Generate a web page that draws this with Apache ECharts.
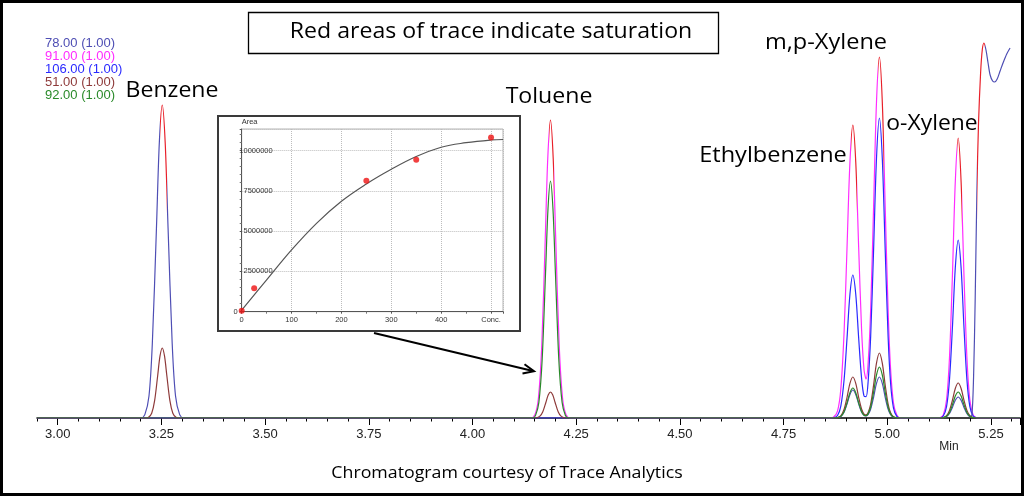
<!DOCTYPE html>
<html>
<head>
<meta charset="utf-8">
<script src="https://cdn.jsdelivr.net/npm/echarts@6/dist/echarts.min.js"></script>
<style>
  html, body { margin: 0; padding: 0; background: #fff; }
  #chart { width: 1024px; height: 496px; }
</style>
</head>
<body>
<div id="chart"></div>
<script>
// ---------- chromatogram traces: [retention time (min), response] ----------
const ion78 = [
  [2.95,0],[3.200,0],[3.210,3.4],[3.220,22],[3.228,74],[3.238,190],[3.245,276],[3.252,313],[3.259,276],[3.266,190],[3.276,74],[3.284,22],[3.294,3.4],[3.304,0],
  [4.870,0],[4.880,0.24],[4.888,1.5],[4.896,6],[4.903,14.2],[4.910,23.6],[4.917,28],[4.924,23.6],[4.931,14.2],[4.938,6.1],[4.944,2.6],[4.949,2],[4.954,3.5],[4.960,8.9],[4.967,20.7],[4.974,34.6],[4.981,41],[4.988,34.6],[4.995,20.7],[5.002,8.9],[5.008,3.3],[5.015,0.7],[5.023,0.1],[5.030,0],
  [5.130,0],[5.135,0.2],[5.143,1.4],[5.150,4.5],[5.157,10.6],[5.164,17.7],[5.171,21],[5.178,17.7],[5.185,10.6],[5.192,4.5],[5.199,1.4],
  [5.204,3],[5.208,40],[5.212,120],[5.216,225],[5.220,295],[5.225,345],[5.229,368],[5.233,375],[5.238,368],[5.243,355],[5.248,343],[5.254,337],[5.259,336],[5.265,339],[5.272,347],[5.280,356],[5.288,364],[5.296,370]
];
const ion91 = [
  [2.95,0],[4.140,0],[4.1505,3.3],[4.159,20.3],[4.167,72.7],[4.1755,180.9],[4.1815,260.2],[4.188,298],[4.1945,260.2],[4.2005,180.9],[4.209,72.7],[4.217,20.3],[4.2255,3.3],[4.236,0],
  [4.860,0],[4.870,0.7],[4.880,6.9],[4.888,29],[4.896,87],[4.903,171],[4.910,256],[4.917,293],[4.924,256],[4.931,171],[4.938,89],[4.944,48],[4.949,39],[4.954,56],[4.960,109],[4.967,211],[4.974,316],[4.981,361],[4.988,316],[4.995,211],[5.002,108],[5.008,49],[5.015,15],[5.023,2.9],[5.032,0],
  [5.120,0],[5.127,0.3],[5.135,3.1],[5.143,18.5],[5.150,60.5],[5.157,141.7],[5.164,236.3],[5.171,280],[5.178,236.3],[5.185,141.7],[5.192,60.5],[5.199,18.5],[5.207,3.1],[5.215,0.3],[5.222,0],[5.32,0]
];
const ion106 = [
  [2.95,0],[4.860,0],[4.870,0.2],[4.880,2.5],[4.888,11.9],[4.896,38.8],[4.903,80],[4.910,123.7],[4.917,143],[4.924,123.7],[4.931,80.2],[4.938,40],[4.944,21.8],[4.949,21.3],[4.954,37.3],[4.960,82],[4.967,168],[4.974,259.5],[4.981,300],[4.988,259.5],[4.995,168],[5.002,81.3],[5.008,34.8],[5.015,9.8],[5.023,1.6],[5.032,0],
  [5.125,0],[5.135,2],[5.143,11.7],[5.150,38.4],[5.157,90],[5.164,150.2],[5.171,178],[5.178,150.2],[5.185,90],[5.192,38.4],[5.199,11.7],[5.207,2],[5.215,0.2],[5.222,0],[5.32,0]
];
const ion51 = [
  [2.95,0],[3.212,0],[3.219,0.8],[3.2265,4.8],[3.2335,17.1],[3.241,42.5],[3.2465,61.8],[3.252,70],[3.2575,61.8],[3.263,42.5],[3.2705,17.1],[3.2775,4.8],[3.285,0.8],[3.292,0],
  [4.148,0],[4.155,0.3],[4.1625,1.8],[4.1695,6.3],[4.177,15.8],[4.1825,22.9],[4.188,26],[4.1935,22.9],[4.199,15.8],[4.2065,6.3],[4.2135,1.8],[4.221,0.3],[4.228,0],
  [4.872,0],[4.880,0.36],[4.888,2.2],[4.896,8.9],[4.903,20.7],[4.910,34.6],[4.917,41],[4.924,34.6],[4.931,20.7],[4.938,9],[4.944,3.9],[4.949,3.1],[4.954,5.6],[4.960,14],[4.967,32.9],[4.974,54.9],[4.981,65],[4.988,54.9],[4.995,32.9],[5.002,14],[5.008,5.2],[5.015,1.2],[5.023,0.1],[5.030,0],
  [5.130,0],[5.135,0.4],[5.143,2.3],[5.150,7.6],[5.157,17.7],[5.164,29.5],[5.171,35],[5.178,29.5],[5.185,17.7],[5.192,7.6],[5.199,2.3],[5.207,0.4],[5.214,0],[5.32,0]
];
const ion92 = [
  [2.95,0],[4.145,0],[4.152,2.6],[4.160,15.6],[4.168,59],[4.176,144],[4.182,209],[4.188,237],[4.194,209],[4.200,144],[4.208,59],[4.216,15.6],[4.224,2.6],[4.232,0],
  [4.872,0],[4.880,0.26],[4.888,1.6],[4.896,6.5],[4.903,15.2],[4.910,25.3],[4.917,30],[4.924,25.3],[4.931,15.2],[4.938,6.6],[4.944,2.8],[4.949,2.3],[4.954,4.4],[4.960,11],[4.967,25.8],[4.974,43],[4.981,51],[4.988,43],[4.995,25.8],[5.002,11],[5.008,4.1],[5.015,0.9],[5.023,0.1],[5.030,0],
  [5.130,0],[5.135,0.3],[5.143,1.7],[5.150,5.6],[5.157,13.2],[5.164,21.9],[5.171,26],[5.178,21.9],[5.185,13.2],[5.192,5.6],[5.199,1.7],[5.207,0.3],[5.214,0],[5.32,0]
];
// saturated time ranges (drawn red)
const sat78 = [[3.247, 3.264], [5.217, 5.236]];
const sat91 = [[4.184, 4.197], [4.913, 4.926], [4.977, 4.993], [5.167, 5.179]];

const ionNames = ['78.00 (1.00)', '91.00 (1.00)', '106.00 (1.00)', '51.00 (1.00)', '92.00 (1.00)'];
const ionColors = ['#4e4eb4', '#ff2cff', '#2a2aff', '#8e3a3a', '#2a8a2a'];

// peak annotations
const peakNames = ['Benzene', 'Toluene', 'Ethylbenzene', 'm,p-Xylene', 'o-Xylene'];

// ---------- inset calibration ----------
const calConc = [0, 25, 250, 350, 500];
const calArea = [60000, 1450000, 8120000, 9420000, 10800000];
const fitConc = [0, 50, 100, 150, 200, 250, 300, 350, 400, 450, 500, 524];
const fitArea = [100000, 1970000, 3830000, 5480000, 6850000, 7920000, 8830000, 9620000, 10200000, 10480000, 10650000, 10680000];

const SAT = '#e8202a';
const FONT = '"Open Sans", Lato, sans-serif';
const SANS = '"Liberation Sans", Arial, sans-serif';

const chart = echarts.init(document.getElementById('chart'), null, { renderer: 'canvas' });

function traceSeries(name, data, color, useVisual) {
  const ls = { width: 1.2 };
  if (!useVisual) ls.color = color;
  return {
    name: name, type: 'line', data: data, xAxisIndex: 0, yAxisIndex: 0,
    smooth: 0.3, showSymbol: false, symbol: 'none',
    lineStyle: ls, itemStyle: { color: color },
    emphasis: { disabled: true }
  };
}
function satMap(seriesIndex, ranges, color) {
  return {
    type: 'piecewise', show: false, dimension: 0, seriesIndex: seriesIndex,
    pieces: ranges.map(r => ({ gte: r[0], lte: r[1], color: SAT })),
    outOfRange: { color: color }
  };
}
function label(text, x, y, size, sx) {
  return { type: 'text', z: 11, x: x, y: y, scaleX: sx,
    style: { text: text, fontSize: size, fontFamily: FONT, fill: '#000', align: 'center', verticalAlign: 'middle' } };
}

const option = {
  animation: false,
  backgroundColor: '#fff',
  legend: {
    orient: 'vertical', left: 40, top: 37, padding: 0,
    itemWidth: 0, itemHeight: 0, itemGap: 0, icon: 'rect',
    selectedMode: false,
    textStyle: { fontSize: 13, fontFamily: SANS, lineHeight: 12.9 },
    data: [0, 1, 2, 3, 4].map(i => ({ name: ionNames[i], textStyle: { color: ionColors[i] } }))
  },
  grid: [
    { left: 37, right: 4, top: 18, bottom: 78 },
    { left: 57.74, right: 4, top: 18, bottom: 78 },
    { left: 241.7, top: 129, width: 261.3, height: 182.7, show: true, borderColor: '#b4b4b4', borderWidth: 1, backgroundColor: 'transparent' }
  ],
  xAxis: [
    { gridIndex: 0, type: 'value', min: 2.95, max: 5.32, interval: 0.05,
      axisLine: { show: true, lineStyle: { color: '#000', width: 1.5 } },
      axisTick: { show: true, length: 3.5, lineStyle: { color: '#000', width: 1 } },
      axisLabel: { show: false }, splitLine: { show: false } },
    { gridIndex: 1, type: 'value', min: 3.00, max: 5.32, interval: 0.25,
      axisLine: { show: false },
      axisTick: { show: true, length: 7, lineStyle: { color: '#000', width: 1 } },
      axisLabel: { margin: 10, fontSize: 13, fontFamily: SANS, color: '#222',
        formatter: v => (v > 5.3) ? '' : v.toFixed(2) },
      splitLine: { show: false } },
    { gridIndex: 2, type: 'value', min: 0, max: 524, interval: 100,
      axisLine: { show: true, lineStyle: { color: '#555', width: 1 } },
      axisTick: { show: true, length: 2, lineStyle: { color: '#555' } },
      minorTick: { show: true, splitNumber: 2, length: 2, lineStyle: { color: '#777' } },
      axisLabel: { margin: 4, fontSize: 7.5, fontFamily: SANS, color: '#333',
        formatter: v => v === 500 ? 'Conc.' : (v % 100 === 0 ? String(v) : '') },
      splitLine: { show: true, lineStyle: { type: 'dotted', color: '#bdbdbd', width: 1 } } }
  ],
  yAxis: [
    { gridIndex: 0, type: 'value', min: 0, max: 400, show: false },
    { gridIndex: 1, type: 'value', min: 0, max: 1, show: false },
    { gridIndex: 2, type: 'value', min: 0, max: 11330000, interval: 2500000,
      name: 'Area', nameLocation: 'end', nameGap: 3,
      nameTextStyle: { fontSize: 7.5, fontFamily: SANS, color: '#333', align: 'left' },
      axisLine: { show: true, lineStyle: { color: '#555', width: 1 } },
      axisTick: { show: true, length: 2, lineStyle: { color: '#555' } },
      minorTick: { show: true, splitNumber: 5, length: 2, lineStyle: { color: '#777' } },
      axisLabel: { inside: true, align: 'right', margin: 31, fontSize: 7.5, fontFamily: SANS, color: '#333',
        formatter: v => v === 0 ? '{z|0}' : (v % 2500000 === 0 ? String(v) : ''),
        rich: { z: { fontSize: 7.5, fontFamily: SANS, color: '#333', padding: [0, 35, 0, 0] } } },
      splitLine: { show: true, lineStyle: { type: 'dotted', color: '#bdbdbd', width: 1 } } }
  ],
  visualMap: [
    satMap(0, sat91, ionColors[1]),
    satMap(2, sat78, ionColors[0])
  ],
  series: [
    traceSeries(ionNames[1], ion91, ionColors[1], true),
    traceSeries(ionNames[2], ion106, ionColors[2], false),
    traceSeries(ionNames[0], ion78, ionColors[0], true),
    traceSeries(ionNames[3], ion51, ionColors[3], false),
    traceSeries(ionNames[4], ion92, ionColors[4], false),
    { type: 'line', xAxisIndex: 2, yAxisIndex: 2, data: fitConc.map((c, i) => [c, fitArea[i]]),
      smooth: 0.4, showSymbol: false, symbol: 'none', lineStyle: { color: '#555', width: 1.2 }, z: 3 },
    { type: 'scatter', xAxisIndex: 2, yAxisIndex: 2, data: calConc.map((c, i) => [c, calArea[i]]),
      symbolSize: 6, itemStyle: { color: '#ee1111' }, z: 4 }
  ],
  graphic: [
    // outer frame
    { type: 'rect', z: 100, shape: { x: 1.5, y: 1.5, width: 1021, height: 493 }, style: { fill: 'none', stroke: '#000', lineWidth: 3 } },
    // title box
    { type: 'rect', z: 10, shape: { x: 248.5, y: 12.5, width: 470, height: 41 }, style: { fill: '#fff', stroke: '#000', lineWidth: 1.3 } },
    label('Red areas of trace indicate saturation', 491, 32, 21, 1.1),
    // inset frame
    { type: 'rect', z: 10, shape: { x: 218, y: 116, width: 302, height: 215 }, style: { fill: 'none', stroke: '#3a3a3a', lineWidth: 2 } },
    // arrow
    { type: 'line', z: 10, shape: { x1: 374, y1: 333, x2: 533, y2: 371 }, style: { stroke: '#000', lineWidth: 2 } },
    { type: 'polyline', z: 10, shape: { points: [[524.5, 364.2], [534, 371.2], [522.5, 373.4]] }, style: { fill: 'none', stroke: '#000', lineWidth: 2 } },
    // peak labels
    label(peakNames[0], 172, 91, 22, 1.05),
    label(peakNames[1], 549, 97, 22, 1.05),
    label(peakNames[2], 773, 156, 22, 1.07),
    label(peakNames[3], 826, 43, 22, 1.07),
    label(peakNames[4], 932, 124, 22, 1.04),
    // axis unit & caption
    { type: 'text', z: 10, x: 949, y: 447, style: { text: 'Min', fontSize: 12, fontFamily: SANS, fill: '#222', align: 'center', verticalAlign: 'middle' } },
    label('Chromatogram courtesy of Trace Analytics', 507, 473, 17, 1.045)
  ]
};
chart.setOption(option);
</script>
</body>
</html>
